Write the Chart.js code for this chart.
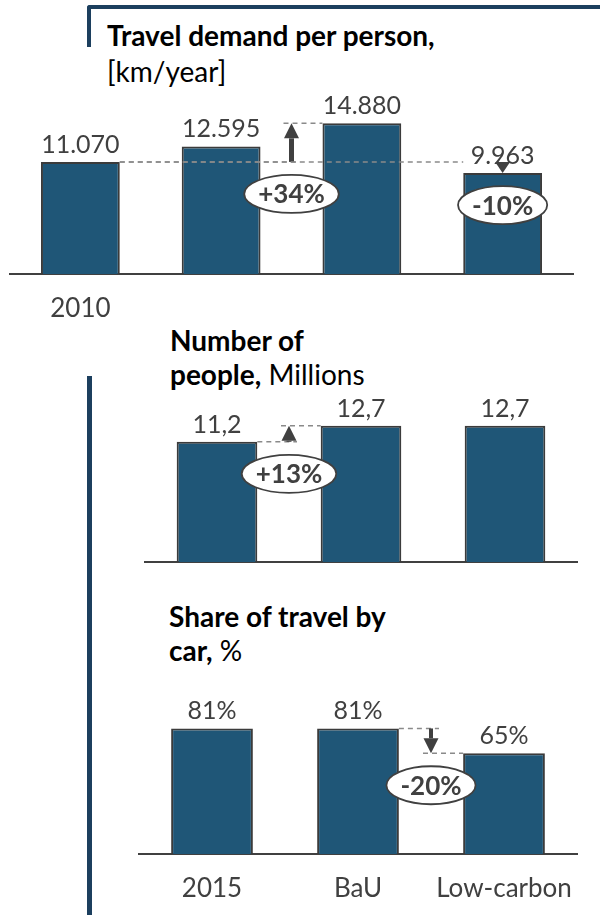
<!DOCTYPE html>
<html>
<head>
<meta charset="utf-8">
<title>Travel demand, people and car share</title>
<script src="https://cdn.jsdelivr.net/npm/chart.js@4.4.1/dist/chart.umd.min.js"></script>
<style>
  body { margin: 0; background: #fff; }
  #page { position: relative; width: 600px; height: 917px; overflow: hidden; font-family: Lato, "Open Sans", sans-serif; }
  .rule { position: absolute; background: #1c3f5e; }
  .heading { position: absolute; font-size: 28px; line-height: 28px; color: #000; white-space: nowrap; }
  .heading b { font-weight: 700; }
  canvas { position: absolute; left: 0; }
</style>
</head>
<body>
<div id="page">
  <div class="rule" style="left:87px; top:5px; width:513px; height:4px; border-top-left-radius:3px"></div>
  <div class="rule" style="left:87px; top:5px; width:4px; height:42px; border-top-left-radius:3px"></div>
  <div class="rule" style="left:87px; top:376px; width:5px; height:539px"></div>

  <div class="heading" style="left:107px; top:21px"><b>Travel demand per person,</b></div>
  <div class="heading" style="left:107px; top:57px">[km/year]</div>
  <div class="heading" style="left:170px; top:326px"><b>Number of</b></div>
  <div class="heading" style="left:170px; top:360px"><b>people,</b> Millions</div>
  <div class="heading" style="left:169px; top:602px"><b>Share of travel by</b></div>
  <div class="heading" style="left:169px; top:636px"><b>car,</b> %</div>

  <canvas id="demandChart" width="600" height="330" style="top:0"></canvas>
  <canvas id="peopleChart" width="600" height="270" style="top:330px"></canvas>
  <canvas id="shareChart" width="600" height="317" style="top:600px"></canvas>
</div>

<script>
// categories and values
const demandLabels = ['2010', '2015', 'BaU', 'Low-carbon'];
const demandValues = [11070, 12595, 14880, 9963];      // km per person per year
const scenarioLabels = ['2015', 'BaU', 'Low-carbon'];
const peopleValues = [11.2, 12.7, 12.7];               // millions
const carShareValues = [81, 81, 65];                   // % of travel by car

const FONT = 'Lato, "Open Sans", sans-serif';
const BAR_FILL = '#1f5677';
const BAR_EDGE = '#3b3b3b';
const INK = '#404040';
const GUIDE = '#8a8a8a';

Chart.defaults.font.family = FONT;

const thousands = v => String(Math.round(v)).replace(/\B(?=(\d{3})+(?!\d))/g, '.');
const decimalComma = v => v.toFixed(1).replace('.', ',');
const percent = v => v + '%';

// value printed above each bar
function valueLabels(format) {
  return {
    id: 'valueLabels',
    afterDatasetsDraw(chart) {
      const ctx = chart.ctx;
      const values = chart.data.datasets[0].data;
      ctx.save();
      ctx.font = '25px ' + FONT;
      ctx.fillStyle = INK;
      ctx.textAlign = 'center';
      ctx.textBaseline = 'alphabetic';
      chart.getDatasetMeta(0).data.forEach((bar, i) => {
        ctx.fillText(format(values[i]), bar.x, bar.y - 9);
      });
      ctx.restore();
    }
  };
}

function drawArrow(ctx, x, yFrom, yTo, shaft) {
  const dir = yTo < yFrom ? -1 : 1;
  const len = Math.abs(yTo - yFrom);
  const head = Math.min(15, len);
  const neck = yTo - dir * head;
  ctx.save();
  ctx.fillStyle = INK;
  if (len > head) ctx.fillRect(x - shaft / 2, Math.min(yFrom, neck), shaft, Math.abs(neck - yFrom));
  ctx.beginPath();
  ctx.moveTo(x - 7.5, neck);
  ctx.lineTo(x + 7.5, neck);
  ctx.lineTo(x, yTo);
  ctx.closePath();
  ctx.fill();
  ctx.restore();
}

function drawBubble(ctx, x, y, text) {
  ctx.save();
  ctx.font = 'bold 26px ' + FONT;
  const w = ctx.measureText(text).width + 28;
  ctx.beginPath();
  ctx.ellipse(x, y, w / 2, 19, 0, 0, Math.PI * 2);
  ctx.fillStyle = '#fff';
  ctx.fill();
  ctx.lineWidth = 1.8;
  ctx.strokeStyle = INK;
  ctx.stroke();
  ctx.fillStyle = INK;
  ctx.textAlign = 'center';
  ctx.textBaseline = 'middle';
  ctx.fillText(text, x, y + 1);
  ctx.restore();
}

// dashed guides, arrow and % change bubble between two bars
function changeMarks(marks) {
  return {
    id: 'changeMarks',
    afterDatasetsDraw(chart) {
      const ctx = chart.ctx;
      const bars = chart.getDatasetMeta(0).data;
      const values = chart.data.datasets[0].data;
      const yScale = chart.scales.y;
      const left = b => b.x - b.width / 2;
      const right = b => b.x + b.width / 2;

      marks.forEach(m => {
        const from = bars[m.from], to = bars[m.to];
        const y0 = yScale.getPixelForValue(values[m.from]);
        const y1 = yScale.getPixelForValue(values[m.to]);
        const gap = m.at === 'gap';
        const ax = gap ? (right(bars[m.to - 1]) + left(to)) / 2 : to.x;

        ctx.save();
        ctx.strokeStyle = GUIDE;
        ctx.lineWidth = 1.5;
        ctx.setLineDash([5, 4]);
        ctx.beginPath();
        ctx.moveTo(right(from), y0);
        ctx.lineTo(gap ? ax + 8 : left(to), y0);
        if (gap) {
          ctx.moveTo(ax - 8, y1);
          ctx.lineTo(left(to), y1);
        }
        ctx.stroke();
        ctx.restore();

        drawArrow(ctx, ax, y0, y1, m.shaft);

        const pct = Math.round((values[m.to] / values[m.from] - 1) * 100);
        drawBubble(ctx, ax, Math.max(y0, y1) + 32, (pct > 0 ? '+' : '') + pct + '%');
      });
    }
  };
}

function barChart(id, labels, values, cfg) {
  return new Chart(document.getElementById(id), {
    type: 'bar',
    data: {
      labels: labels,
      datasets: [{
        data: values,
        backgroundColor: BAR_FILL,
        borderColor: BAR_EDGE,
        borderWidth: 2,
        barPercentage: 0.56,
        categoryPercentage: 1
      }]
    },
    options: {
      responsive: false,
      animation: false,
      events: [],
      layout: { padding: cfg.padding },
      plugins: { legend: { display: false }, tooltip: { enabled: false } },
      scales: {
        x: {
          grid: { display: false, drawTicks: false },
          border: { display: true, color: INK, width: 2 },
          ticks: {
            display: cfg.ticks !== false,
            color: INK,
            font: { size: 26 },
            padding: 19,
            autoSkip: false,
            maxRotation: 0,
            callback: cfg.tick || function (value) { return this.getLabelForValue(value); }
          },
          afterFit: scale => { scale.height = cfg.axisHeight; }
        },
        y: { display: false, min: 0, max: cfg.max }
      }
    },
    plugins: [valueLabels(cfg.format), changeMarks(cfg.marks)]
  });
}

function drawAll() {
  barChart('demandChart', demandLabels, demandValues, {
    padding: { left: 10, right: 27, top: 112, bottom: 0 },
    axisHeight: 56,
    max: 16000,
    format: thousands,
    // only the base year is labelled here; the rest share the bottom axis
    tick: function (value, index) { return index === 0 ? this.getLabelForValue(value) : ''; },
    marks: [
      { from: 0, to: 2, at: 'gap', shaft: 5 },
      { from: 0, to: 3, at: 'bar', shaft: 5 }
    ]
  });

  barChart('peopleChart', scenarioLabels, peopleValues, {
    padding: { left: 145, right: 23, top: 71, bottom: 0 },
    axisHeight: 38,
    max: 15,
    ticks: false,
    format: decimalComma,
    marks: [{ from: 0, to: 1, at: 'gap', shaft: 5 }]
  });

  barChart('shareChart', scenarioLabels, carShareValues, {
    padding: { left: 139, right: 23, top: 99, bottom: 0 },
    axisHeight: 63,
    max: 100,
    format: percent,
    marks: [{ from: 1, to: 2, at: 'gap', shaft: 4 }]
  });
}

Promise.all([
  document.fonts.load('24px Lato'),
  document.fonts.load('bold 24px Lato')
]).then(drawAll, drawAll);
</script>
</body>
</html>
